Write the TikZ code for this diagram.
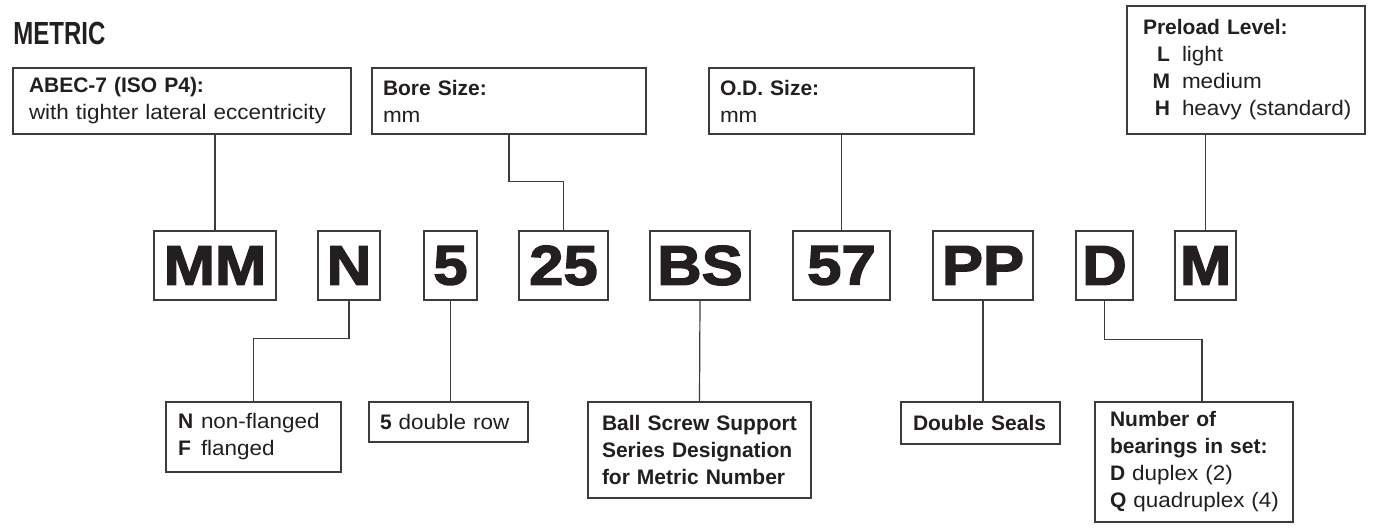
\documentclass[tikz,border=0pt]{standalone}
\usepackage{fontspec}
\setmainfont{Liberation Sans}[UprightFeatures={FakeStretch=1.07}]
\newfontfamily\titlefont[FakeStretch=0.75]{Liberation Sans}
\newfontfamily\codefont[FakeStretch=1.1, BoldFeatures={FakeBold=2.5}]{Liberation Sans}
\usetikzlibrary{calc}
\definecolor{ink}{HTML}{231F20}
\definecolor{rule}{HTML}{3C3C3C}

\begin{document}
\begin{tikzpicture}[
  x=0.5pt, y=-0.5pt,
  every node/.style={text=ink},
  descbox/.style={draw=rule, line width=0.6pt, align=left, inner ysep=0pt,
    font=\fontsize{10.5}{13.5}\selectfont},
  codebox/.style={draw=rule, line width=0.6pt, minimum height=34.5pt, inner sep=0pt,
    font=\codefont\fontsize{28}{28}\selectfont\bfseries},
  lead/.style={draw=rule, line width=0.6pt},
]
  \useasboundingbox (0,0) rectangle (1373,529);

  \node[anchor=base west, inner sep=0pt, font=\titlefont\fontsize{16}{16}\selectfont\bfseries]
    (title) at (13,45) {METRIC};

  % upper descriptions
  \node[descbox, text width=153pt, inner xsep=8pt, minimum height=33pt] (abec) at (182,101) {%
    \textbf{ABEC-7 (ISO P4):}\\
    \mbox{with tighter lateral eccentricity}};
  \node[descbox, text width=126pt, inner xsep=5.5pt, minimum height=33pt] (bore) at (509,101) {%
    \textbf{Bore Size:}\\
    mm};
  \node[descbox, text width=121.5pt, inner xsep=5.5pt, minimum height=33pt] (od) at (841.5,101) {%
    \textbf{O.D. Size:}\\
    mm};
  \node[descbox, text width=103pt, inner xsep=8pt, minimum height=64pt] (preload) at (1246,70) {%
    \textbf{Preload Level:}\\
    \makebox[13.5pt][r]{\textbf{L}}\hspace{6pt}light\\
    \makebox[13.5pt][r]{\textbf{M}}\hspace{6pt}medium\\
    \mbox{\makebox[13.5pt][r]{\textbf{H}}\hspace{6pt}heavy (standard)}};

  % code letters
  \node[codebox, minimum width=61pt]   (mm)     at (215,265.5)    {MM};
  \node[codebox, minimum width=31pt]   (nn)     at (349,265.5)    {N};
  \node[codebox, minimum width=26.5pt] (five)   at (450.5,265.5)  {5};
  \node[codebox, minimum width=44.5pt] (bore25) at (563.5,265.5)  {25};
  \node[codebox, minimum width=50pt]   (bs)     at (700,265.5)    {BS};
  \node[codebox, minimum width=48.5pt] (od57)   at (841.5,265.5)  {57};
  \node[codebox, minimum width=50pt]   (pp)     at (983,265.5)    {PP};
  \node[codebox, minimum width=28.5pt] (dd)     at (1104.5,265.5) {D};
  \node[codebox, minimum width=30.5pt] (level)  at (1205.5,265.5) {M};

  % lower descriptions
  \node[descbox, text width=75.5pt, inner xsep=6pt, minimum height=35pt] (flange) at (253.5,437) {%
    \makebox[11.5pt][l]{\textbf{N}}non-flanged\\
    \makebox[11.5pt][l]{\textbf{F}}flanged};
  \node[descbox, text width=68.5pt, inner xsep=5.5pt, minimum height=20pt] (row) at (448.5,422) {%
    \textbf{5} double row};
  \node[descbox, text width=97.5pt, inner xsep=7pt, minimum height=48pt] (series) at (699.5,450) {%
    \textbf{Ball Screw Support}\\
    \textbf{Series Designation}\\
    \textbf{for Metric Number}};
  \node[descbox, text width=67.5pt, inner xsep=6pt, minimum height=21pt] (seals) at (980.5,423) {%
    \textbf{Double Seals}};
  \node[descbox, text width=84pt, inner xsep=7.5pt, minimum height=60pt] (set) at (1194,462) {%
    \textbf{Number of}\\
    \textbf{bearings in set:}\\
    \textbf{D} duplex (2)\\
    \mbox{\textbf{Q} quadruplex (4)}};

  \draw[lead] (mm.north) -- (mm.north |- abec.south);
  \draw[lead] (bore.south) -- ++(0,47) -| (bore25.north);
  \draw[lead] (od.south) -- (od57.north);
  \draw[lead] (level.north) -- (level.north |- preload.south);

  \draw[lead] (nn.south) -- ++(0,38) -| (flange.north);
  \draw[lead] (five.south) -- (five.south |- row.north);
  \draw[lead] (bs.south) -- (series.north);
  \draw[lead] (pp.south) -- (pp.south |- seals.north);
  \draw[lead] (dd.south) -- ++(0,39) -| ($(set.north)+(8,0)$);
\end{tikzpicture}
\end{document}
